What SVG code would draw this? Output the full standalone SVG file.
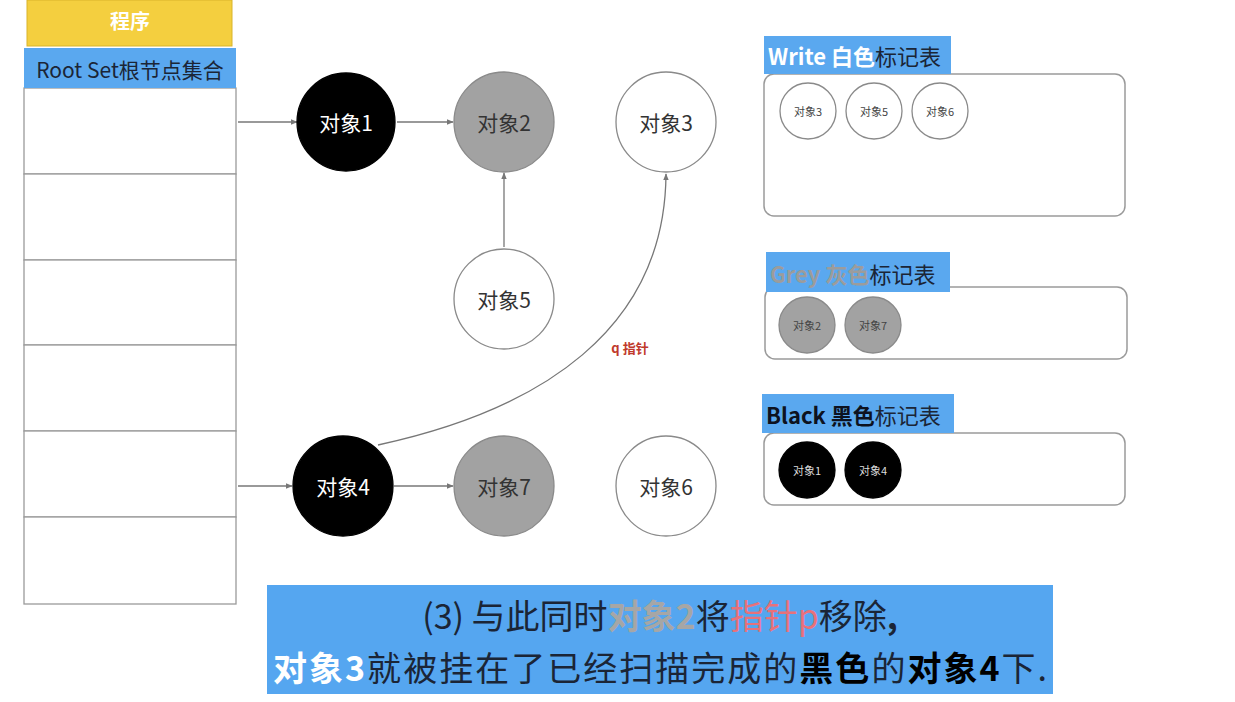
<svg xmlns="http://www.w3.org/2000/svg" width="1235" height="702" viewBox="0 0 1235 702">
<style>
text{font-family:"Noto Sans CJK SC","Liberation Sans",sans-serif}
.cell{fill:#fff;stroke:#9a9a9a;stroke-width:1.3}
.node{stroke:#8a8a8a;stroke-width:1.3}
.white{fill:#fff}
.grey{fill:#a2a2a2}
.black{fill:#000;stroke:#000}
.lbl{font-size:21px;fill:#333;text-anchor:middle;dominant-baseline:central}
.lblw{font-size:21px;fill:#fff;text-anchor:middle;dominant-baseline:central}
.sm{font-size:11px;fill:#444;text-anchor:middle;dominant-baseline:central}
.smw{font-size:11px;fill:#ddd;text-anchor:middle;dominant-baseline:central}
.edge{stroke:#777;stroke-width:1.3;fill:none;marker-end:url(#ah)}
.hdr{fill:#5aa8ef}
.panel{fill:#fff;stroke:#9a9a9a;stroke-width:1.5}
.ht{font-size:22px;fill:#1b2536}
.bt{font-size:34px;fill:#1b2536;text-anchor:middle}
</style>
<defs>
<marker id="ah" viewBox="0 0 10 10" refX="9" refY="5" markerWidth="7" markerHeight="7" orient="auto" markerUnits="userSpaceOnUse">
<path d="M0,1 L10,5 L0,9 z" fill="#777"/>
</marker>
</defs>
<rect width="1235" height="702" fill="#fff"/>

<g id="program">
<rect x="27" y="0" width="205" height="46" fill="#f4cf3f" stroke="#d9b42a" stroke-width="1"/>
<text x="130" y="20" font-size="20" font-weight="bold" fill="#fff" text-anchor="middle" dominant-baseline="central">程序</text>
</g>

<g id="rootset">
<rect class="cell" x="24" y="88" width="212" height="86"/>
<rect class="cell" x="24" y="174" width="212" height="86"/>
<rect class="cell" x="24" y="260" width="212" height="85"/>
<rect class="cell" x="24" y="345" width="212" height="86"/>
<rect class="cell" x="24" y="431" width="212" height="86"/>
<rect class="cell" x="24" y="517" width="212" height="87"/>
<rect class="hdr" x="24" y="48" width="212" height="40"/>
<text x="130" y="69" font-size="21" fill="#1b2536" text-anchor="middle" dominant-baseline="central">Root Set根节点集合</text>
</g>

<g id="connectors">
<line class="edge" x1="238" y1="122" x2="297" y2="122"/>
<line class="edge" x1="238" y1="486" x2="292" y2="486"/>
<line class="edge" x1="397" y1="122" x2="453" y2="122"/>
<line class="edge" x1="504" y1="247" x2="504" y2="173"/>
<line class="edge" x1="394" y1="486" x2="453" y2="486"/>
<path class="edge" d="M378,445 C540,410 665,330 666,174"/>
<text x="630" y="347" font-size="13" font-weight="bold" fill="#c0392b" text-anchor="middle" dominant-baseline="central">q 指针</text>
</g>

<g id="obj1"><circle class="node black" cx="346" cy="122" r="49"/><text class="lblw" x="346" y="122">对象1</text></g>
<g id="obj2"><circle class="node grey" cx="504" cy="122" r="50"/><text class="lbl" x="504" y="122">对象2</text></g>
<g id="obj3"><circle class="node white" cx="666" cy="122" r="50"/><text class="lbl" x="666" y="122">对象3</text></g>
<g id="obj5"><circle class="node white" cx="504" cy="299" r="50"/><text class="lbl" x="504" y="299">对象5</text></g>
<g id="obj4"><circle class="node black" cx="343" cy="486" r="50"/><text class="lblw" x="343" y="486">对象4</text></g>
<g id="obj7"><circle class="node grey" cx="504" cy="486" r="50"/><text class="lbl" x="504" y="486">对象7</text></g>
<g id="obj6"><circle class="node white" cx="666" cy="486" r="50"/><text class="lbl" x="666" y="486">对象6</text></g>

<g id="white-table">
<rect class="panel" x="764" y="74" width="361" height="142" rx="10"/>
<rect class="hdr" x="764" y="36" width="187" height="38"/>
<text class="ht" x="768" y="55" dominant-baseline="central"><tspan font-weight="bold" fill="#fff">Write 白色</tspan>标记表</text>
<circle class="node white" cx="808" cy="111" r="28"/><text class="sm" x="808" y="111">对象3</text>
<circle class="node white" cx="874" cy="111" r="28"/><text class="sm" x="874" y="111">对象5</text>
<circle class="node white" cx="940" cy="111" r="28"/><text class="sm" x="940" y="111">对象6</text>
</g>

<g id="grey-table">
<rect class="panel" x="765" y="287" width="362" height="72" rx="10"/>
<rect class="hdr" x="766" y="252" width="184" height="40"/>
<text class="ht" x="770" y="273" dominant-baseline="central"><tspan font-weight="bold" fill="#9c9c9c">Grey 灰色</tspan>标记表</text>
<circle class="node grey" cx="807" cy="325" r="28"/><text class="sm" x="807" y="325">对象2</text>
<circle class="node grey" cx="873" cy="325" r="28"/><text class="sm" x="873" y="325">对象7</text>
</g>

<g id="black-table">
<rect class="panel" x="764" y="433" width="361" height="72" rx="10"/>
<rect class="hdr" x="762" y="394" width="192" height="39"/>
<text class="ht" x="766" y="414" dominant-baseline="central"><tspan font-weight="bold" fill="#0d1220">Black 黑色</tspan>标记表</text>
<circle class="node black" cx="807" cy="470" r="28"/><text class="smw" x="807" y="470">对象1</text>
<circle class="node black" cx="873" cy="470" r="28"/><text class="smw" x="873" y="470">对象4</text>
</g>

<g id="caption">
<rect x="267" y="585" width="786" height="109" fill="#55a6f0"/>
<text class="bt" x="660" y="614" dominant-baseline="central">(3) 与此同时<tspan font-weight="bold" fill="#a6a6a6">对象2</tspan>将<tspan fill="#e8717a">指针p</tspan>移除<tspan font-weight="bold">,</tspan></text>
<text class="bt" x="660" y="666" dominant-baseline="central" textLength="774" lengthAdjust="spacing"><tspan font-weight="bold" fill="#fff">对象3</tspan>就被挂在了已经扫描完成的<tspan font-weight="bold" fill="#000">黑色</tspan>的<tspan font-weight="bold" fill="#000">对象4</tspan>下.</text>
</g>
</svg>
